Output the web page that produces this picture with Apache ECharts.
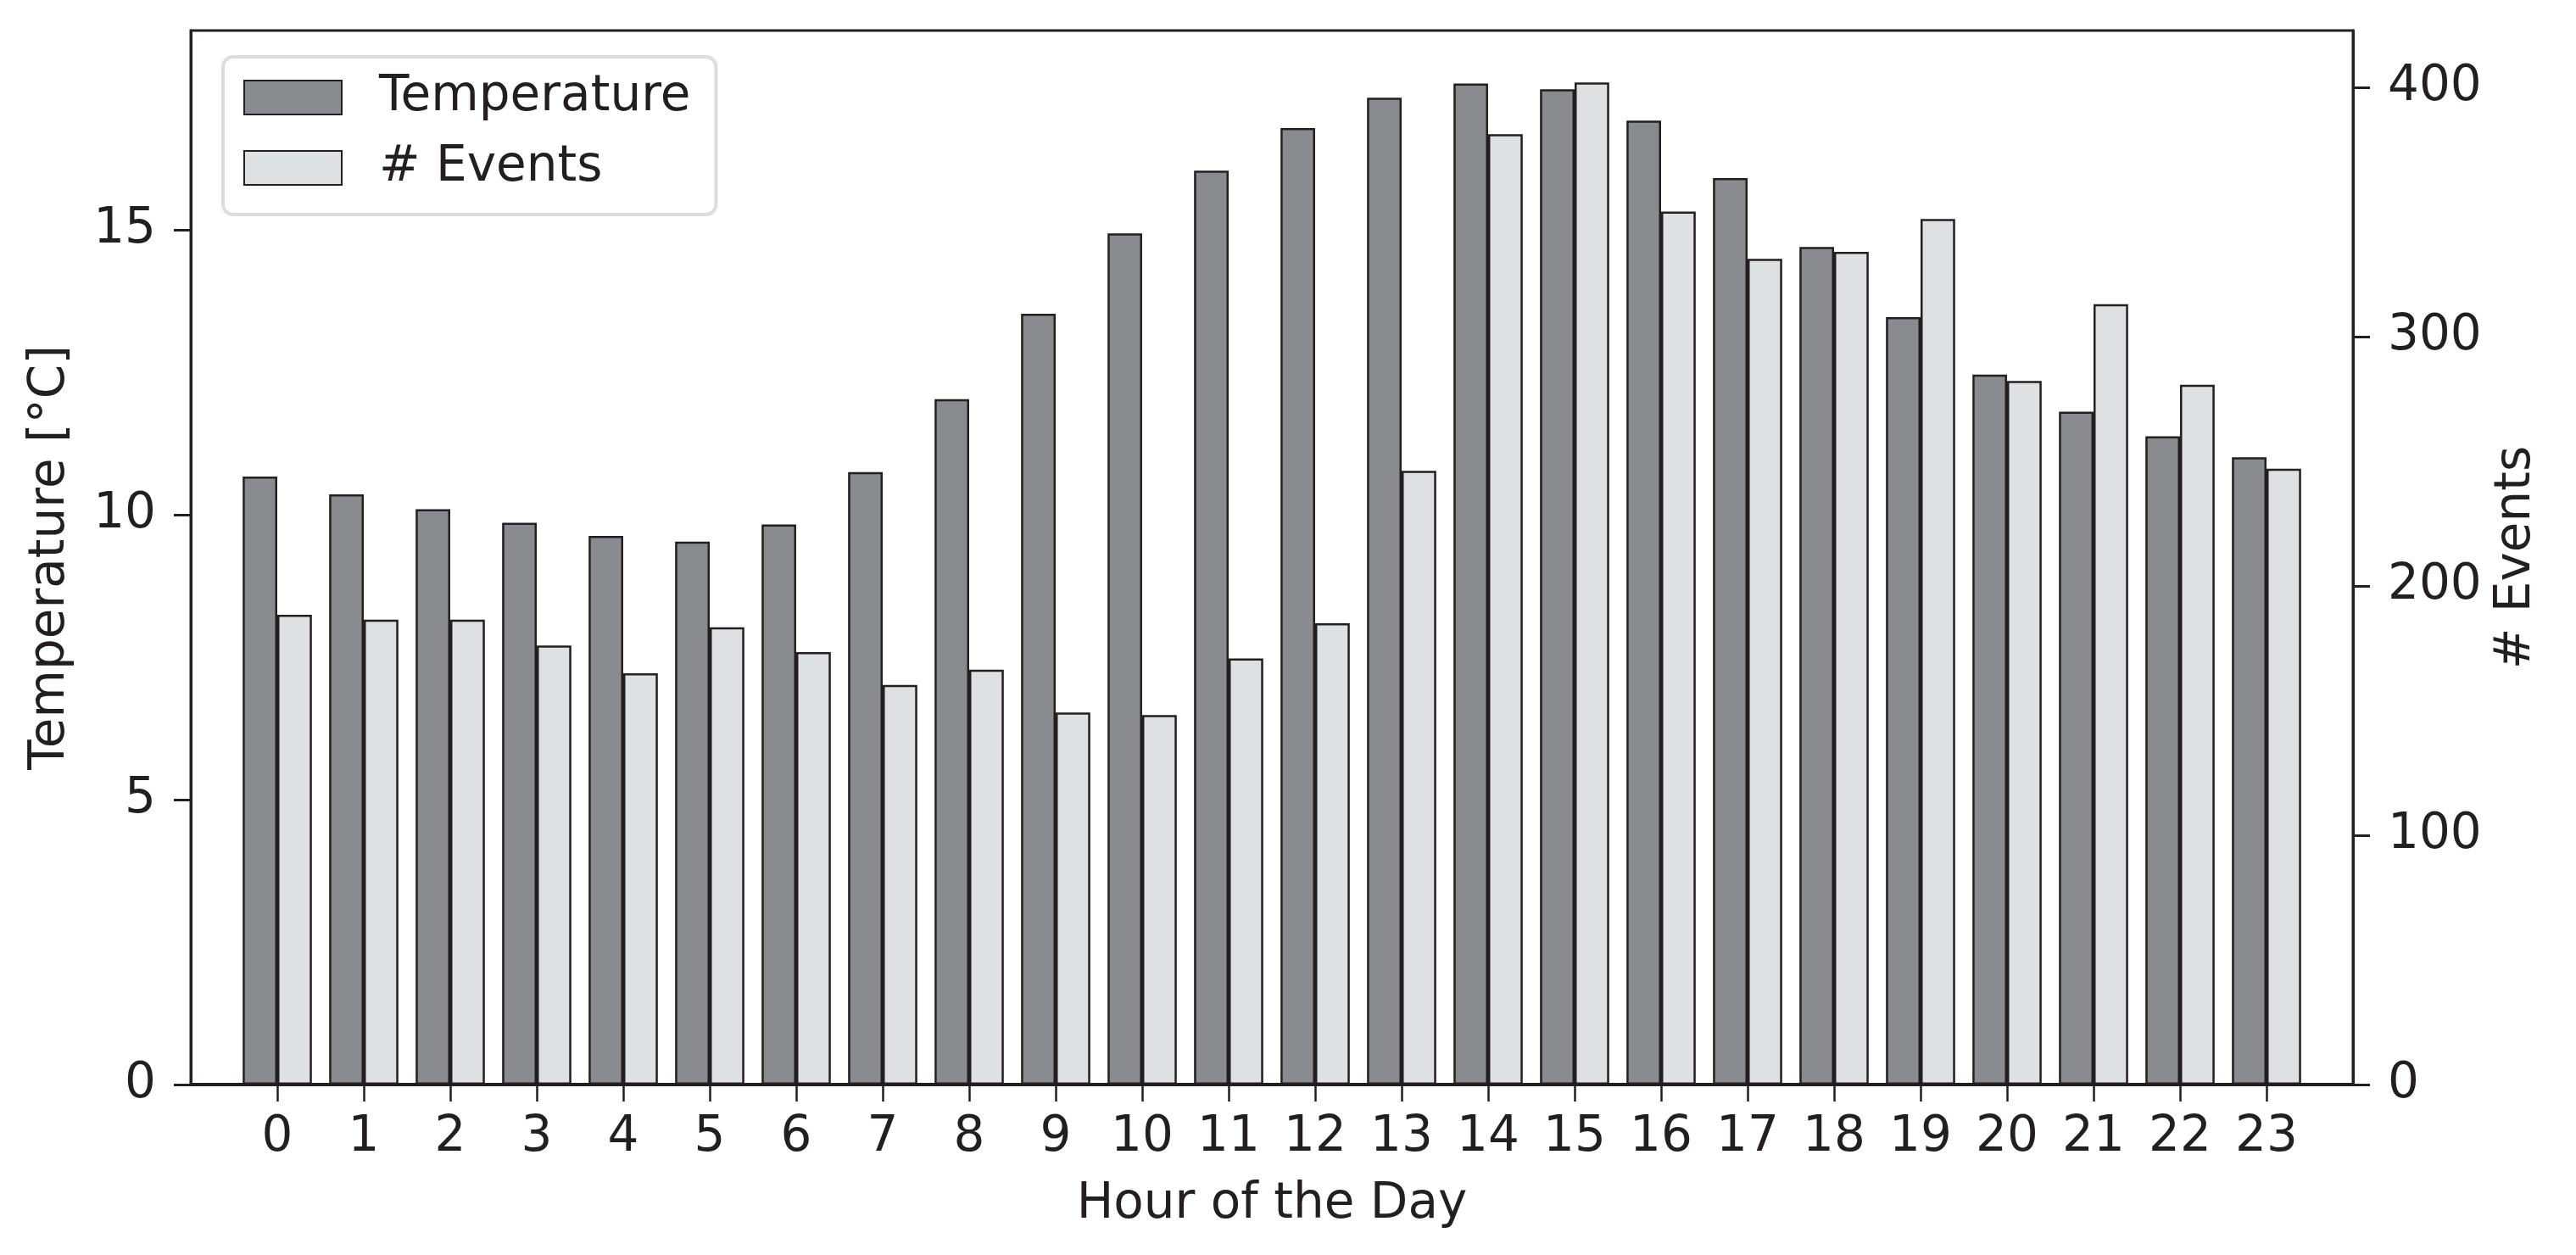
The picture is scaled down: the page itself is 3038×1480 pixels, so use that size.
<!DOCTYPE html>
<html>
<head>
<meta charset="utf-8">
<script src="https://cdn.jsdelivr.net/npm/echarts@6/dist/echarts.min.js"></script>
<style>
html,body{margin:0;padding:0;background:#fff;}
#chart{width:3038px;height:1480px;}
</style>
</head>
<body>
<div id="chart"></div>
<script>
const hours = [0,1,2,3,4,5,6,7,8,9,10,11,12,13,14,15,16,17,18,19,20,21,22,23];
const temperature = [10.67,10.36,10.10,9.86,9.63,9.53,9.83,10.75,12.03,13.53,14.94,16.04,16.79,17.32,17.57,17.47,16.92,15.91,14.70,13.47,12.46,11.81,11.38,11.01];
const events = [188.4,186.5,186.5,176.1,165.0,183.4,173.5,160.3,166.4,149.2,148.2,170.9,185.0,246.2,381.2,402.0,350.2,331.2,334.0,347.2,282.2,313.0,280.7,247.0];
const tempTicks = [0,5,10,15];
const eventTicks = [0,100,200,300,400];
const seriesNames = ['Temperature', '# Events'];
const xName = 'Hour of the Day';
const yLeftName = 'Temperature [°C]';
const yRightName = '# Events';

const INK = '#231f20';
const FONT = 'DejaVu Sans';
const FS = 58;

const chart = echarts.init(document.getElementById('chart'), null, {renderer: 'canvas'});

function yAxisBase(ticks, max, interval, name, gap) {
  return {
    type: 'value', min: 0, max: max, interval: interval,
    name: name, nameLocation: 'middle', nameRotate: 90, nameGap: gap,
    nameTextStyle: {fontFamily: FONT, fontSize: FS, color: INK},
    axisLine: {show: true, onZero: false, lineStyle: {color: INK, width: 3}},
    axisTick: {show: true, length: 20, lineStyle: {color: INK, width: 3}, customValues: ticks},
    axisLabel: {show: true, margin: 41, fontFamily: FONT, fontSize: FS, color: INK, customValues: ticks},
    splitLine: {show: false}
  };
}

chart.setOption({
  animation: false,
  backgroundColor: '#ffffff',
  grid: {left: 225, right: 263, top: 36, bottom: 201, containLabel: false,
         show: true, borderColor: INK, borderWidth: 3, backgroundColor: 'transparent'},
  legend: {
    orient: 'vertical', left: 263, top: 67,
    padding: [19, 30, 26, 24],
    itemWidth: 115, itemHeight: 40, itemGap: 25,
    icon: 'rect',
    backgroundColor: '#ffffff',
    borderColor: '#dcdde0', borderWidth: 4, borderRadius: 12,
    textStyle: {fontFamily: FONT, fontSize: FS, color: INK, lineHeight: 58, padding: [0, 0, 0, 39]},
    data: seriesNames
  },
  xAxis: {
    type: 'value', min: -1, max: 24, interval: 1,
    name: xName, nameLocation: 'middle', nameGap: 113,
    nameTextStyle: {fontFamily: FONT, fontSize: FS, color: INK},
    axisLine: {show: true, onZero: false, lineStyle: {color: INK, width: 4}},
    axisTick: {show: true, length: 20, lineStyle: {color: INK, width: 2.5}, customValues: hours},
    axisLabel: {show: true, margin: 34, fontFamily: FONT, fontSize: FS, color: INK, customValues: hours},
    splitLine: {show: false}
  },
  yAxis: [
    yAxisBase(tempTicks, 18.5, 5, yLeftName, 136),
    Object.assign(yAxisBase(eventTicks, 422.8, 100, yRightName, 164), {position: 'right'})
  ],
  series: [
    {
      name: seriesNames[0], type: 'bar', xAxisIndex: 0, yAxisIndex: 0,
      barWidth: '40%', barGap: '0%',
      itemStyle: {color: '#8a8b8f', borderColor: INK, borderWidth: 2.5},
      data: hours.map((h, i) => [h, temperature[i]])
    },
    {
      name: seriesNames[1], type: 'bar', xAxisIndex: 0, yAxisIndex: 1,
      barWidth: '40%', barGap: '0%',
      itemStyle: {color: '#dfe0e2', borderColor: INK, borderWidth: 2.5},
      data: hours.map((h, i) => [h, events[i]])
    }
  ]
});
</script>
</body>
</html>
